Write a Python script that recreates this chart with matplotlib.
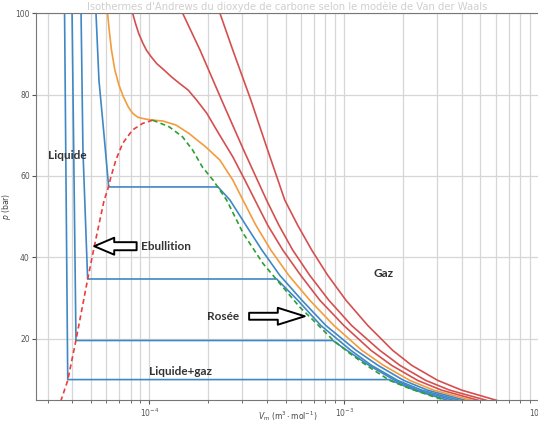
import matplotlib.pyplot as plt

# --- isothermes sous-critiques (bleu) : branche liquide, palier, branche gaz
v_b1 = [3.67e-5, 3.81e-5, 17.0e-4, 23.0e-4, 34.0e-4]
p_b1 = [100, 10.0, 10.0, 7.4, 4.9]
v_b2 = [4.01e-5, 4.20e-5, 8.73e-4, 10.3e-4, 13.4e-4, 18.2e-4, 23.8e-4, 36.4e-4]
p_b2 = [100, 19.6, 19.6, 17.2, 13.5, 9.8, 7.4, 4.9]
v_b3 = [4.46e-5, 4.56e-5, 4.82e-5, 4.50e-4, 5.77e-4, 7.58e-4, 10.8e-4, 13.8e-4, 18.8e-4,
        25.0e-4, 39.1e-4]
p_b3 = [100, 66.3, 34.7, 34.7, 29.5, 23.3, 17.2, 13.5, 9.8, 7.4, 4.9]
v_b4 = [5.32e-5, 5.51e-5, 5.84e-5, 6.18e-5, 2.25e-4, 2.59e-4, 3.13e-4, 3.78e-4, 4.67e-4,
        6.06e-4, 8.04e-4, 11.5e-4, 14.9e-4, 20.2e-4, 26.8e-4, 42.0e-4]
p_b4 = [100, 83.5, 70.5, 57.3, 57.3, 54.1, 47.9, 41.8, 35.6, 29.5, 23.3, 17.2, 13.5, 9.8,
        7.4, 4.9]

# --- isotherme critique (orange)
v_crit = [6.10e-5, 6.22e-5, 6.39e-5, 6.65e-5, 6.98e-5, 7.36e-5, 7.80e-5, 8.20e-5, 8.73e-5,
          9.48e-5, 1.04e-4, 1.17e-4, 1.37e-4, 1.60e-4, 1.95e-4, 2.30e-4, 2.68e-4, 3.02e-4,
          3.52e-4, 4.20e-4, 5.19e-4, 6.65e-4, 8.84e-4, 12.3e-4, 15.9e-4, 21.7e-4, 28.8e-4, 45.1e-4]
p_crit = [100, 95.8, 90.9, 86.0, 82.3, 79.4, 76.9, 75.4, 74.4, 74.0, 73.7, 73.5, 72.5, 70.4,
          67.1, 63.9, 59.0, 54.1, 47.9, 41.8, 35.6, 29.5, 23.3, 17.2, 13.5, 9.8, 7.4, 4.9]

# --- isothermes sur-critiques (rouge)
v_r1 = [8.20e-5, 8.48e-5, 8.81e-5, 9.26e-5, 9.65e-5, 1.02e-4, 1.09e-4, 1.19e-4, 1.30e-4,
        1.43e-4, 1.58e-4, 1.75e-4, 1.97e-4, 2.27e-4, 2.68e-4, 3.09e-4, 3.48e-4, 4.05e-4,
        4.84e-4, 5.98e-4, 7.49e-4, 9.94e-4, 13.7e-4, 17.5e-4, 23.8e-4, 31.6e-4, 48.9e-4]
p_r1 = [100, 97.5, 95.0, 92.6, 90.9, 89.3, 87.6, 86.0, 84.3, 82.7, 81.1, 78.6, 75.4, 70.4,
        64.7, 59.0, 54.1, 47.9, 41.8, 35.6, 29.5, 23.3, 17.2, 13.5, 9.8, 7.4, 4.9]
v_r2 = [1.48e-4, 1.82e-4, 2.35e-4, 3.05e-4, 3.99e-4, 4.62e-4, 5.44e-4, 6.65e-4, 8.33e-4,
        10.9e-4, 15.2e-4, 19.3e-4, 26.2e-4, 34.8e-4, 53.8e-4]
p_r2 = [100, 90.9, 78.6, 66.3, 54.1, 47.9, 41.8, 35.6, 29.5, 23.3, 17.2, 13.5, 9.8, 7.4, 4.9]
v_r3 = [2.30e-4, 2.68e-4, 3.32e-4, 4.05e-4, 4.95e-4, 5.77e-4, 6.81e-4, 8.23e-4, 10.2e-4,
        13.2e-4, 17.7e-4, 22.2e-4, 30.2e-4, 40.1e-4, 60.6e-4]
p_r3 = [100, 90.9, 78.6, 66.3, 54.1, 47.9, 41.8, 35.6, 29.5, 23.3, 17.2, 13.5, 9.8, 7.4, 4.9]

# --- courbe d'ebullition (rouge pointille) et de rosee (vert pointille)
v_ebu = [1.04e-4, 9.23e-5, 8.20e-5, 7.29e-5, 6.73e-5, 6.35e-5, 6.10e-5, 5.86e-5, 5.21e-5,
         4.82e-5, 4.20e-5, 3.81e-5, 3.52e-5]
p_ebu = [73.7, 72.9, 71.3, 68.0, 63.9, 59.8, 56.5, 54.1, 42.6, 34.6, 19.7, 9.8, 4.9]
v_ros = [1.04e-4, 1.26e-4, 1.48e-4, 1.67e-4, 1.87e-4, 2.12e-4, 2.49e-4, 3.03e-4, 3.83e-4,
         4.67e-4, 5.91e-4, 7.20e-4, 8.76e-4, 10.7e-4, 13.0e-4, 17.1e-4, 21.7e-4, 27.5e-4, 32.0e-4]
p_ros = [73.7, 72.1, 69.6, 66.3, 62.2, 59.0, 54.1, 45.9, 38.5, 33.6, 27.8, 23.8, 19.7, 16.4,
         13.5, 9.8, 7.8, 6.1, 5.1]

fig = plt.figure(figsize=(5.38, 4.21), dpi=100)
ax = fig.add_axes([0.067, 0.05, 0.935, 0.919])
ax.set_xscale('log')

bleu = '#3f88c5'
rouge = '#d64f4f'
for v, p in [(v_b1, p_b1), (v_b2, p_b2), (v_b3, p_b3), (v_b4, p_b4)]:
    ax.plot(v, p, color=bleu, lw=1.2)
ax.plot(v_crit, p_crit, color='#f39c3c', lw=1.2)
for v, p in [(v_r1, p_r1), (v_r2, p_r2), (v_r3, p_r3)]:
    ax.plot(v, p, color=rouge, lw=1.2)
ax.plot(v_ebu, p_ebu, color='#ef3b3b', lw=1.2, ls=(0, (3, 2)))
ax.plot(v_ros, p_ros, color='#2ca02c', lw=1.2, ls=(0, (3, 2)))

ax.set_xlim(2.62e-5, 1e-2)
ax.set_ylim(5, 100)
ax.set_yticks([20, 40, 60, 80, 100])
ax.grid(True, which='major', color='#d6d6d6', lw=0.9)
ax.grid(True, which='minor', axis='x', color='#d6d6d6', lw=0.9)
ax.tick_params(labelsize=5.5, colors='#555555', which='both', length=3, pad=1.5)
ax.tick_params(which='minor', length=2)
for s in ax.spines.values():
    s.set_color('#777777')
ax.set_xlabel(r'$V_\mathrm{m}$ (m$^3\cdot$mol$^{-1}$)', fontsize=5.5, color='#444444')
ax.xaxis.set_label_coords(0.5, -0.024)
ax.set_ylabel(r'$p$ (bar)', fontsize=5.5, color='#444444')
ax.yaxis.set_label_coords(-0.046, 0.5)
ax.set_title("Isothermes d'Andrews du dioxyde de carbone selon le modèle de Van der Waals",
             fontsize=7.2, color='#cfcfcf', pad=2.5)

txt = dict(fontsize=8.5, fontweight='bold', color='#333333', va='center', family='Lato')
ax.text(3.81e-5, 65.1, 'Liquide', ha='center', **txt)
ax.text(9.05e-5, 42.6, 'Ebullition', ha='left', **txt)
ax.text(1.965e-4, 25.4, 'Rosée', ha='left', **txt)
ax.text(14.2e-4, 36.0, 'Gaz', ha='left', **txt)
ax.text(1.0e-4, 11.9, 'Liquide+gaz', ha='left', **txt)

ax.annotate('', xy=(5.21e-5, 42.75), xytext=(8.60e-5, 42.75),
            arrowprops=dict(arrowstyle='simple,head_length=1.44,head_width=1.22,tail_width=0.58',
                            fc='white', ec='black', lw=1.4, shrinkA=0, shrinkB=0))
ax.annotate('', xy=(6.27e-4, 25.55), xytext=(3.25e-4, 25.55),
            arrowprops=dict(arrowstyle='simple,head_length=1.94,head_width=1.22,tail_width=0.5',
                            fc='white', ec='black', lw=1.4, shrinkA=0, shrinkB=0))

fig.savefig('out.png', dpi=100)
